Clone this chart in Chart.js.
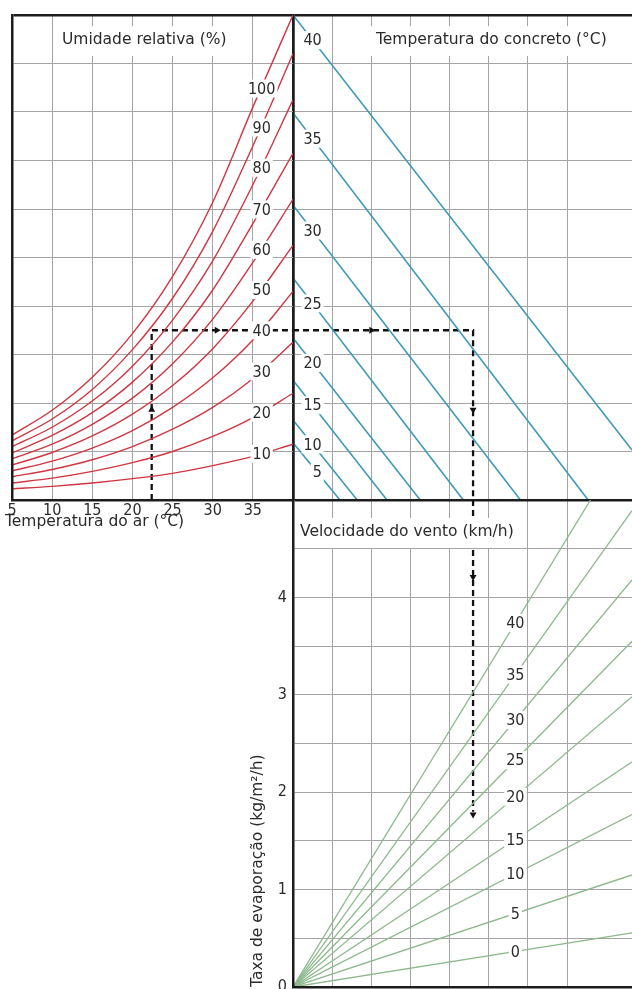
<!DOCTYPE html>
<html lang="pt">
<head>
    <meta charset="UTF-8">
    <title>Taxa de evaporação do concreto</title>
    <script src="https://cdn.jsdelivr.net/npm/chart.js"></script>
    <style>
        body { margin: 0; background: #fff; }
        .board { position: relative; width: 632px; height: 989px; overflow: hidden; }
        .board canvas { position: absolute; }
    </style>
</head>
<body>
<div class="board">
    <canvas id="airChart" width="300" height="540" style="left:0;top:0"></canvas>
    <canvas id="concreteChart" width="339" height="500" style="left:293px;top:0"></canvas>
    <canvas id="windChart" width="392" height="489" style="left:240px;top:500px"></canvas>
</div>

<script>
    // Air temperature (°C) where the humidity curves are sampled
    const airTemps = [5, 10, 15, 20, 25, 30, 35, 40];
    const humidityLevels = [100, 90, 80, 70, 60, 50, 40, 30, 20, 10];
    // Vapour pressure of each humidity curve, in grid rows (0 = bottom, 10 = top)
    const humidityCurves = [
        [1.34, 1.85, 2.53, 3.43, 4.61, 6.14, 8.10, 10.00],
        [1.22, 1.67, 2.28, 3.10, 4.16, 5.54, 7.30, 9.20],
        [1.10, 1.50, 2.04, 2.76, 3.71, 4.93, 6.50, 8.25],
        [0.97, 1.33, 1.80, 2.43, 3.26, 4.33, 5.70, 7.15],
        [0.85, 1.15, 1.56, 2.10, 2.81, 3.73, 4.90, 6.20],
        [0.72, 0.98, 1.32, 1.77, 2.36, 3.12, 4.10, 5.25],
        [0.60, 0.80, 1.07, 1.43, 1.91, 2.52, 3.30, 4.30],
        [0.48, 0.63, 0.83, 1.10, 1.46, 1.91, 2.50, 3.25],
        [0.35, 0.45, 0.59, 0.77, 1.00, 1.31, 1.70, 2.20],
        [0.23, 0.28, 0.35, 0.44, 0.55, 0.71, 0.90, 1.15]
    ];

    // Concrete temperature lines: leave the centre axis at startRow, end at (endCol, endRow)
    const concreteTemps = [40, 35, 30, 25, 20, 15, 10, 5];
    const concreteStartRow = [10.0, 7.98, 6.08, 4.58, 3.34, 2.47, 1.65, 1.18];
    const concreteEndCol = [8.66, 7.54, 5.81, 4.35, 3.25, 2.40, 1.64, 1.20];
    const concreteEndRow = [1.03, 0, 0, 0, 0, 0, 0, 0, 0];

    // Wind speed lines (km/h): all start at the origin, end at (windEndCol, windEndRate)
    const windSpeeds = [40, 35, 30, 25, 20, 15, 10, 5, 0];
    const windEndCol = [7.60, 8.66, 8.66, 8.66, 8.66, 8.66, 8.66, 8.66, 8.66];
    const windEndRate = [5.0, 4.89, 4.18, 3.55, 2.98, 2.31, 1.77, 1.15, 0.555];

    // Worked example path
    const exampleAirTemp = 22.4;
    const exampleRow = 3.5;
    const exampleCol = 4.6;
    const exampleRate = 1.8;

    const NUM_FONT = "'DejaVu Sans Condensed', 'Liberation Sans Narrow', sans-serif";
    const TEXT_FONT = "'DejaVu Sans', sans-serif";
    const INK = '#2b2b2b';
    const GRID = '#a4a4a4';
    const FRAME = '#1c1c1c';
    const RED = '#cf3642';
    const BLUE = '#3e98b8';
    const GREEN = '#8cb88b';

    // thin grey grid, with a thick frame line on the given edge value
    function gridWithEdge(edge) {
        return {
            drawTicks: false,
            color: c => (c.tick && c.tick.value === edge) ? FRAME : GRID,
            lineWidth: c => (c.tick && c.tick.value === edge) ? 2.5 : 1
        };
    }
    const frameBorder = { color: FRAME, width: 2.5, z: 1 };

    function fixSize(w, h) {
        return scale => {
            if (w !== null) scale.width = w;
            if (h !== null) scale.height = h;
            scale.paddingTop = 0; scale.paddingBottom = 0;
            scale.paddingLeft = 0; scale.paddingRight = 0;
        };
    }

    // numbers sitting on the curves, with a white patch behind
    const valueLabels = {
        id: 'valueLabels',
        afterDatasetsDraw(chart, args, opts) {
            const { ctx, scales: { x, y } } = chart;
            ctx.save();
            ctx.font = '16px ' + NUM_FONT;
            ctx.textAlign = 'center';
            ctx.textBaseline = 'middle';
            (opts.items || []).forEach(item => {
                const px = x.getPixelForValue(item.x);
                const py = y.getPixelForValue(item.y);
                const w = ctx.measureText(item.text).width;
                ctx.fillStyle = '#fff';
                ctx.fillRect(px - w / 2 - 2, py - 9, w + 4, 18);
                ctx.fillStyle = INK;
                ctx.fillText(item.text, px, py + 1);
            });
            ctx.restore();
        }
    };

    // axis captions, placed relative to the plot area
    const captions = {
        id: 'captions',
        afterDatasetsDraw(chart, args, opts) {
            const { ctx, chartArea } = chart;
            ctx.save();
            ctx.font = '15.5px ' + TEXT_FONT;
            ctx.textAlign = 'left';
            ctx.textBaseline = 'middle';
            (opts.items || []).forEach(item => {
                const px = chartArea.left + item.dx;
                const py = chartArea.top + item.dy;
                const w = ctx.measureText(item.text).width;
                if (item.box) {
                    ctx.fillStyle = '#fff';
                    ctx.fillRect(px - 5, py - 14, w + 10, 30);
                }
                ctx.fillStyle = INK;
                ctx.fillText(item.text, px, py);
            });
            ctx.restore();
        }
    };

    function commonOptions(padding) {
        return {
            responsive: false,
            animation: false,
            events: [],
            devicePixelRatio: 1,
            layout: { padding: padding, autoPadding: false },
            plugins: { legend: { display: false }, tooltip: { enabled: false } }
        };
    }

    function dashedPath(points) {
        return {
            data: points, showLine: true, borderColor: '#111', borderWidth: 2.3,
            borderDash: [6, 4], pointRadius: 0, tension: 0
        };
    }
    function arrowHeads(points, rotations) {
        return {
            data: points, showLine: false, pointStyle: 'triangle', pointRadius: 4,
            pointRotation: rotations, backgroundColor: '#111', borderColor: '#111', borderWidth: 0
        };
    }

    // --- top left: air temperature and relative humidity ---
    const rhDatasets = humidityCurves.map(curve => ({
        data: airTemps.map((t, i) => ({ x: t, y: curve[i] })),
        showLine: true, borderColor: RED, borderWidth: 1.4, pointRadius: 0,
        cubicInterpolationMode: 'monotone'
    }));
    // label sits on each curve at 36.1 °C
    const rhLabelTemp = 36.1;
    const rhLabels = humidityLevels.map((rh, k) => {
        const c = humidityCurves[k];
        const f = (rhLabelTemp - 35) / 5;
        return { text: String(rh), x: rhLabelTemp, y: c[6] * Math.pow(c[7] / c[6], f) };
    });

    new Chart(document.getElementById('airChart'), {
        type: 'scatter',
        data: {
            datasets: rhDatasets.concat([
                dashedPath([{ x: exampleAirTemp, y: 0 }, { x: exampleAirTemp, y: exampleRow }, { x: 40, y: exampleRow }]),
                arrowHeads([{ x: exampleAirTemp, y: 1.86 }, { x: 30.5, y: exampleRow }], [0, 90])
            ])
        },
        options: Object.assign(commonOptions({ left: 12, top: 15, right: 7, bottom: 0 }), {
            scales: {
                x: {
                    type: 'linear', min: 5, max: 40,
                    grid: gridWithEdge(40), border: frameBorder,
                    ticks: {
                        stepSize: 5, padding: 1, color: INK, autoSkip: false, maxRotation: 0,
                        font: { family: NUM_FONT, size: 16 },
                        callback: v => v === 40 ? '' : v
                    },
                    afterFit: fixSize(null, 40)
                },
                y: {
                    type: 'linear', min: 0, max: 10,
                    grid: gridWithEdge(10), border: frameBorder,
                    ticks: { display: false, stepSize: 1 },
                    afterFit: fixSize(0, null)
                }
            },
            plugins: {
                legend: { display: false }, tooltip: { enabled: false },
                valueLabels: { items: rhLabels },
                captions: {
                    items: [
                        { text: 'Umidade relativa (%)', dx: 50, dy: 25, box: true },
                        { text: 'Temperatura do ar (°C)', dx: -7, dy: 507, box: false }
                    ]
                }
            }
        }),
        plugins: [valueLabels, captions]
    });

    // --- top right: concrete temperature ---
    const concreteDatasets = concreteTemps.map((t, i) => ({
        data: [{ x: 0, y: concreteStartRow[i] }, { x: concreteEndCol[i], y: concreteEndRow[i] }],
        showLine: true, borderColor: BLUE, borderWidth: 1.6, pointRadius: 0
    }));
    const concreteLabels = concreteTemps.map((t, i) => {
        const col = t === 5 ? 0.62 : 0.5;
        return {
            text: String(t), x: col,
            y: concreteStartRow[i] + (concreteEndRow[i] - concreteStartRow[i]) * col / concreteEndCol[i]
        };
    });

    new Chart(document.getElementById('concreteChart'), {
        type: 'scatter',
        data: {
            datasets: concreteDatasets.concat([
                dashedPath([{ x: 0, y: exampleRow }, { x: exampleCol, y: exampleRow }, { x: exampleCol, y: 0 }]),
                arrowHeads([{ x: 2.0, y: exampleRow }, { x: exampleCol, y: 1.86 }], [90, 180])
            ])
        },
        options: Object.assign(commonOptions({ left: 0, top: 15, right: 0, bottom: 0 }), {
            scales: {
                x: {
                    type: 'linear', min: 0, max: 8.66,
                    grid: gridWithEdge(null), border: frameBorder,
                    ticks: { display: false, stepSize: 1 },
                    afterFit: fixSize(null, 0)
                },
                y: {
                    type: 'linear', min: 0, max: 10,
                    grid: gridWithEdge(10), border: frameBorder,
                    ticks: { display: false, stepSize: 1 },
                    afterFit: fixSize(0, null)
                }
            },
            plugins: {
                legend: { display: false }, tooltip: { enabled: false },
                valueLabels: { items: concreteLabels },
                captions: { items: [{ text: 'Temperatura do concreto (°C)', dx: 83, dy: 25, box: true }] }
            }
        }),
        plugins: [valueLabels, captions]
    });

    // --- bottom right: wind speed and evaporation rate ---
    const windDatasets = windSpeeds.map((w, i) => ({
        data: [{ x: 0, y: 0 }, { x: windEndCol[i], y: windEndRate[i] }],
        showLine: true, borderColor: GREEN, borderWidth: 1.3, pointRadius: 0
    }));
    const windLabelCol = 5.68;
    const windLabels = windSpeeds.map((w, i) => ({
        text: String(w), x: windLabelCol, y: windEndRate[i] * windLabelCol / windEndCol[i]
    }));

    new Chart(document.getElementById('windChart'), {
        type: 'scatter',
        data: {
            datasets: windDatasets.concat([
                dashedPath([{ x: exampleCol, y: 5 }, { x: exampleCol, y: exampleRate }]),
                arrowHeads([{ x: exampleCol, y: 4.21 }, { x: exampleCol, y: exampleRate - 0.03 }], [180, 180])
            ])
        },
        options: Object.assign(commonOptions({ left: 0, top: 0, right: 0, bottom: 2 }), {
            scales: {
                x: {
                    type: 'linear', min: 0, max: 8.66,
                    grid: gridWithEdge(null), border: frameBorder,
                    ticks: { display: false, stepSize: 1 },
                    afterFit: fixSize(null, 0)
                },
                y: {
                    type: 'linear', min: 0, max: 5,
                    grid: gridWithEdge(5), border: frameBorder,
                    ticks: {
                        stepSize: 0.5, padding: 6, color: INK, autoSkip: false,
                        font: { family: NUM_FONT, size: 16 },
                        callback: v => (Number.isInteger(v) && v < 5) ? v : ''
                    },
                    title: {
                        display: true, text: 'Taxa de evaporação (kg/m²/h)', align: 'start',
                        color: INK, font: { family: TEXT_FONT, size: 15.5 }, padding: { top: 9, bottom: 0 }
                    },
                    afterFit: fixSize(53, null)
                }
            },
            plugins: {
                legend: { display: false }, tooltip: { enabled: false },
                valueLabels: { items: windLabels },
                captions: { items: [{ text: 'Velocidade do vento (km/h)', dx: 7, dy: 32, box: true }] }
            }
        }),
        plugins: [valueLabels, captions]
    });
</script>
</body>
</html>
